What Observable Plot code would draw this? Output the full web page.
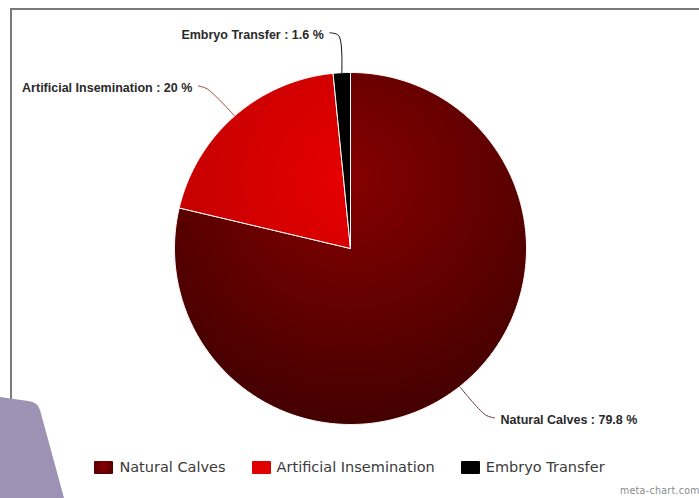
<!DOCTYPE html>
<html>
<head>
<meta charset="utf-8">
<script src="https://cdn.jsdelivr.net/npm/d3@7"></script>
<script src="https://cdn.jsdelivr.net/npm/@observablehq/plot@0.6"></script>
<style>
  html, body { margin: 0; padding: 0; background: #fff; }
  #wrap { position: relative; width: 699px; height: 498px; overflow: hidden; background: #fff; }
  #frame { position: absolute; left: 10px; top: 8px; width: 800px; height: 600px; border-left: 2px solid #7a7a7a; border-top: 2px solid #7a7a7a; pointer-events: none; z-index: 1; }
  #chart { position: absolute; left: 0; top: 0; }
  #legend { position: absolute; left: 0; top: 458px; width: 699px; height: 18px; display: flex; justify-content: center; align-items: center; gap: 26px; font-family: "DejaVu Sans", sans-serif; font-size: 14.5px; color: #3a3a3a; z-index: 2; }
  #legend .item { display: flex; align-items: center; gap: 6px; }
  #legend .sw { width: 19px; height: 13px; border-radius: 1px; }
  #credit { position: absolute; left: 620px; top: 484px; font-family: "DejaVu Sans Condensed", "DejaVu Sans", sans-serif; font-size: 10.5px; color: #8a8a8a; white-space: nowrap; letter-spacing: 0.3px; }
  #deco { position: absolute; left: 0; top: 0; z-index: 3; pointer-events: none; }
</style>
</head>
<body>
<div id="wrap">
  <div id="chart"></div>
  <div id="frame"></div>
  <div id="legend"></div>
  <div id="credit">meta-chart.com</div>
  <svg id="deco" width="699" height="498"><path d="M0,397 L28,401 Q38,402 40,410 L64,498 L0,498 Z" fill="#9d92b4"/></svg>
</div>
<script>
// ---- data ----
const categories = ["Natural Calves", "Artificial Insemination", "Embryo Transfer"];
const percents = [79.8, 20, 1.6];
const baseColors = ["#860000", "#e60000", "#000000"];
const edgeColors = ["#440000", "#b80000", "#000000"];
const connectorColors = ["#6a3a3a", "#b04040", "#111111"];

// ---- layout ----
const W = 699, H = 450, CX = 350, CY = 248, R = 176;
const LABEL_R = 216 / R, PAD = 10 / R;

const pie = d3.pie().sort(null).value(d => d.value).startAngle(0).endAngle(2 * Math.PI);
const arcs = pie(categories.map((name, i) => ({name, value: percents[i], i})));

// polygon points for each slice (unit coords, y up)
const slices = arcs.map(a => {
  const pts = [{x: 0, y: 0}];
  const n = Math.max(2, Math.ceil((a.endAngle - a.startAngle) / (Math.PI / 360)));
  for (let k = 0; k <= n; ++k) {
    const t = a.startAngle + (a.endAngle - a.startAngle) * k / n;
    pts.push({x: Math.sin(t), y: Math.cos(t)});
  }
  pts.push({x: 0, y: 0});
  return {i: a.data.i, name: a.data.name, pts};
});

// labels + connectors
const labels = arcs.map(a => {
  const m = (a.startAngle + a.endAngle) / 2;
  const right = Math.sin(m) >= 0;
  const ly = LABEL_R * Math.cos(m);
  const lx = (Math.sqrt(Math.max(0, LABEL_R * LABEL_R - ly * ly)) + PAD) * (right ? 1 : -1);
  const ex = Math.sin(m), ey = Math.cos(m);
  const elbow = {x: lx + (right ? -9 : 9) / R, y: ly + Math.sign(ey - ly) * 3 / R};
  return {
    i: a.data.i,
    text: `${a.data.name} : ${a.data.value} %`,
    right,
    tx: lx + (right ? 6 : -6) / R,
    ty: ly - 2 / R,
    line: [{x: lx, y: ly}, elbow, {x: ex, y: ey}]
  };
});

const defsMark = (index, scales) => {
  const g = d3.create("svg:g");
  const defs = g.append("defs");
  const cx = scales.x(0), cy = scales.y(0.4);
  const r = scales.x(1.4) - scales.x(0);
  baseColors.forEach((c, i) => {
    const gr = defs.append("radialGradient")
      .attr("id", "pieGrad" + i)
      .attr("gradientUnits", "userSpaceOnUse")
      .attr("cx", cx).attr("cy", cy).attr("r", r);
    gr.append("stop").attr("offset", 0).attr("stop-color", c);
    gr.append("stop").attr("offset", 1).attr("stop-color", edgeColors[i]);
  });
  return g.node();
};

const textOpts = {
  x: "tx", y: "ty", text: "text",
  fontFamily: "Liberation Sans, Arial, sans-serif",
  fontWeight: "bold", fontSize: 12.5, fill: "#2a2a2a"
};

const chart = Plot.plot({
  width: W,
  height: H,
  margin: 0,
  style: {background: "transparent"},
  x: {domain: [-CX / R, (W - CX) / R], axis: null},
  y: {domain: [-(H - CY) / R, CY / R], axis: null},
  marks: [
    defsMark,
    ...slices.map(s => Plot.line(s.pts, {x: "x", y: "y", fill: `url(#pieGrad${s.i})`, stroke: "white", strokeWidth: 1, strokeLinejoin: "round"})),
    ...labels.map(l => Plot.line(l.line, {x: "x", y: "y", stroke: connectorColors[l.i], strokeWidth: 1, curve: "catmull-rom"})),
    Plot.text(labels.filter(d => d.right), {...textOpts, textAnchor: "start"}),
    Plot.text(labels.filter(d => !d.right), {...textOpts, textAnchor: "end"})
  ]
});
document.getElementById("chart").appendChild(chart);

// legend
const swatchBg = [
  "radial-gradient(circle at 50% 40%, #8a0000, #4a0000)",
  "#e00000",
  "#000000"
];
const legend = document.getElementById("legend");
categories.forEach((name, i) => {
  const item = document.createElement("div");
  item.className = "item";
  const sw = document.createElement("div");
  sw.className = "sw";
  sw.style.background = swatchBg[i];
  const tx = document.createElement("span");
  tx.textContent = name;
  item.appendChild(sw);
  item.appendChild(tx);
  legend.appendChild(item);
});
</script>
</body>
</html>
